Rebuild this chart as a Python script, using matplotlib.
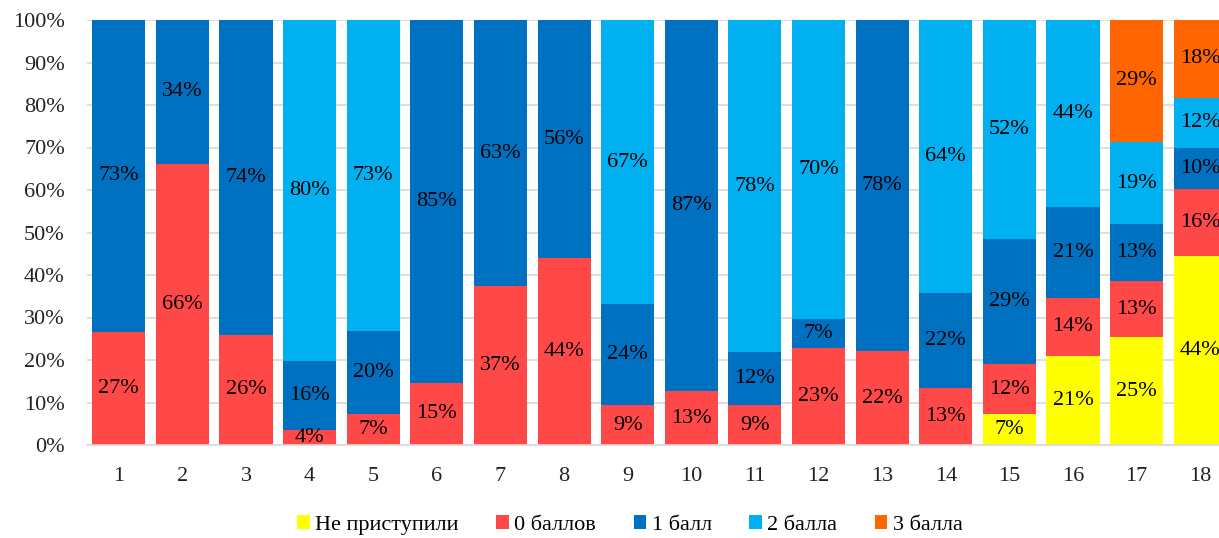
import matplotlib
matplotlib.use("Agg")
import matplotlib.pyplot as plt
import numpy as np

plt.rcParams['font.family'] = ['Liberation Serif', 'DejaVu Serif']

# data (percent of participants per task)
tasks = [str(i) for i in range(1, 19)]
series_names = ['Не приступили', '0 баллов', '1 балл', '2 балла', '3 балла']
ne_pristupili = [0, 0, 0, 0, 0, 0, 0, 0, 0, 0, 0, 0, 0, 0, 7.3, 20.9, 25.4, 44.4]
ball0 = [26.6, 66.2, 25.9, 3.6, 7.3, 14.6, 37.3, 43.9, 9.4, 12.7, 9.4, 22.8, 22.1, 13.4, 11.7, 13.8, 13.1, 15.9]
ball1 = [73.4, 33.8, 74.1, 16.1, 19.6, 85.4, 62.7, 56.1, 23.7, 87.3, 12.4, 6.8, 77.9, 22.4, 29.4, 21.2, 13.4, 9.7]
ball2 = [0, 0, 0, 80.3, 73.1, 0, 0, 0, 66.9, 0, 78.2, 70.4, 0, 64.2, 51.6, 44.1, 19.4, 11.7]
ball3 = [0, 0, 0, 0, 0, 0, 0, 0, 0, 0, 0, 0, 0, 0, 0, 0, 28.7, 18.3]
colors = ['#FFFF00', '#FF4848', '#0070C0', '#00B0F0', '#FF6600']

fig = plt.figure(figsize=(12.19, 5.38), dpi=100)
ax = fig.add_axes([87/1219, 93/538, 1145/1219, 425/538])

x = np.arange(1, 19)
bottom = np.zeros(18)
for name, vals, c in zip(series_names, [ne_pristupili, ball0, ball1, ball2, ball3], colors):
    vals = np.array(vals, dtype=float)
    ax.bar(x, vals, 0.835, bottom=bottom, color=c, label=name, zorder=2)
    for xi, b, v in zip(x, bottom, vals):
        if v > 0:
            ax.text(xi, b + v / 2, '%d%%' % round(v), ha='center', va='center',
                    fontsize=16, color='black', zorder=3)
    bottom += vals

ax.set_xlim(0.5, 18.5)
ax.set_ylim(0, 100)
ax.set_yticks(np.arange(0, 101, 10))
ax.set_yticklabels(['%d%%' % v for v in range(0, 101, 10)], fontsize=16, color='#222222')
ax.set_xticks(x)
ax.set_xticklabels(tasks, fontsize=16, color='#222222')
ax.tick_params(axis='both', length=0)
ax.tick_params(axis='y', pad=16)
ax.tick_params(axis='x', pad=16)
ax.grid(axis='y', color='#D9D9D9', linewidth=1.2, zorder=0)
for s in ['top', 'right', 'left']:
    ax.spines[s].set_visible(False)
ax.spines['bottom'].set_color('#D9D9D9')
ax.spines['bottom'].set_linewidth(1.2)

fig.legend(loc='center', bbox_to_anchor=(630/1219, 13/538), ncol=5, frameon=False,
           fontsize=16, handlelength=0.55, handleheight=0.55, handletextpad=0.25,
           columnspacing=1.7)

fig.savefig('out.png', dpi=100)
